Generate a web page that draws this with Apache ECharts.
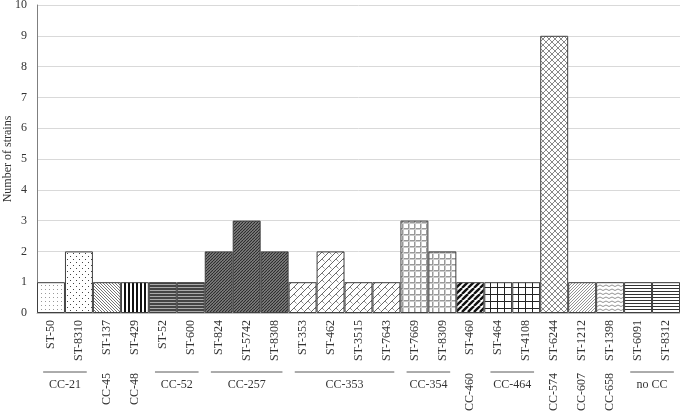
<!DOCTYPE html>
<html>
<head>
<meta charset="utf-8">
<script src="https://cdn.jsdelivr.net/npm/echarts@6/dist/echarts.min.js"></script>
<style>
  html, body { margin: 0; padding: 0; background: #fff; }
  #chart { width: 680px; height: 412px; }
</style>
</head>
<body>
<div id="chart"></div>
<script>
// sequence types (x categories) and strain counts
const categories = ['ST-50', 'ST-8310', 'ST-137', 'ST-429', 'ST-52', 'ST-600', 'ST-824', 'ST-5742', 'ST-8308',
  'ST-353', 'ST-462', 'ST-3515', 'ST-7643', 'ST-7669', 'ST-8309', 'ST-460', 'ST-464', 'ST-4108',
  'ST-6244', 'ST-1212', 'ST-1398', 'ST-6091', 'ST-8312'];
const counts = [1, 2, 1, 1, 1, 1, 2, 3, 2, 1, 2, 1, 1, 3, 2, 1, 1, 1, 9, 1, 1, 1, 1];

// clonal complexes: name, first ST, last ST
const groupNames = ['CC-21', 'CC-45', 'CC-48', 'CC-52', 'CC-257', 'CC-353', 'CC-354', 'CC-460', 'CC-464', 'CC-574', 'CC-607', 'CC-658', 'no CC'];
const groupFirst = ['ST-50', 'ST-137', 'ST-429', 'ST-52', 'ST-824', 'ST-353', 'ST-7669', 'ST-460', 'ST-464', 'ST-6244', 'ST-1212', 'ST-1398', 'ST-6091'];
const groupLast = ['ST-8310', 'ST-137', 'ST-429', 'ST-600', 'ST-8308', 'ST-7643', 'ST-8309', 'ST-460', 'ST-4108', 'ST-6244', 'ST-1212', 'ST-1398', 'ST-8312'];

const yTicks = [0, 10, 1];

const FONT = 'Liberation Serif';
const TEXT = '#333';

// --- fill patterns (one per clonal complex) ---
const tile = (w, h, draw) => {
  const c = document.createElement('canvas');
  c.width = w; c.height = h;
  const ctx = c.getContext('2d');
  ctx.fillStyle = '#fff';
  ctx.fillRect(0, 0, w, h);
  draw(ctx, w, h);
  return { image: c, repeat: 'repeat' };
};
const diag = (ctx, s, color, lw, up) => {
  ctx.strokeStyle = color; ctx.lineWidth = lw;
  for (let i = -1; i <= 1; i++) {
    ctx.beginPath();
    if (up) { ctx.moveTo(i * s, s); ctx.lineTo((i + 1) * s, 0); }
    else { ctx.moveTo(i * s, 0); ctx.lineTo((i + 1) * s, s); }
    ctx.stroke();
  }
};

const patterns = {
  dotsLight: tile(4, 4, (ctx) => { ctx.fillStyle = '#9a9a9a'; ctx.fillRect(1, 1, 1, 1); }),
  dotsDark: tile(6, 6, (ctx) => { ctx.fillStyle = '#444'; ctx.fillRect(1, 1, 1, 1); ctx.fillRect(4, 4, 1, 1); }),
  fineDown: tile(3, 3, (ctx, s) => diag(ctx, s, '#666', 0.9, false)),
  vertThick: tile(4, 1, (ctx) => { ctx.fillStyle = '#111'; ctx.fillRect(0, 0, 2, 1); }),
  horizDense: tile(1, 3, (ctx) => { ctx.fillStyle = '#444'; ctx.fillRect(0, 0, 1, 2); ctx.fillStyle = '#aaa'; ctx.fillRect(0, 2, 1, 1); }),
  darkDiag: tile(3, 3, (ctx, s) => { ctx.fillStyle = '#8a8a8a'; ctx.fillRect(0, 0, s, s); diag(ctx, s, '#2a2a2a', 1.1, true); }),
  wideUp: tile(7, 7, (ctx, s) => {
    diag(ctx, s, '#555', 0.9, true);
    ctx.strokeStyle = '#777'; ctx.lineWidth = 0.8;
    ctx.beginPath(); ctx.moveTo(0, 0); ctx.lineTo(2.5, 2.5); ctx.stroke();
  }),
  smallGrid: tile(6, 6, (ctx) => {
    ctx.fillStyle = '#999'; ctx.fillRect(0, 0, 6, 1); ctx.fillRect(0, 0, 1, 6);
    ctx.fillStyle = '#ccc'; ctx.fillRect(0, 1, 6, 1); ctx.fillRect(1, 0, 1, 6);
  }),
  thickDiag: tile(6, 6, (ctx, s) => diag(ctx, s, '#111', 2.4, true)),
  largeGrid: tile(7, 7, (ctx) => { ctx.fillStyle = '#222'; ctx.fillRect(0, 0, 7, 1); ctx.fillRect(0, 0, 1, 7); }),
  diamond: tile(6, 6, (ctx, s) => { diag(ctx, s, '#888', 1, true); diag(ctx, s, '#888', 1, false); }),
  denseUp: tile(3, 3, (ctx, s) => diag(ctx, s, '#777', 0.8, true)),
  wave: tile(6, 4, (ctx) => {
    ctx.strokeStyle = '#777'; ctx.lineWidth = 0.8;
    ctx.beginPath(); ctx.moveTo(0, 1); ctx.lineTo(3, 2.5); ctx.lineTo(6, 1); ctx.stroke();
  }),
  horizLines: tile(1, 3, (ctx) => { ctx.fillStyle = '#333'; ctx.fillRect(0, 0, 1, 1); })
};

const barPattern = ['dotsLight', 'dotsDark', 'fineDown', 'vertThick', 'horizDense', 'horizDense', 'darkDiag', 'darkDiag', 'darkDiag',
  'wideUp', 'wideUp', 'wideUp', 'wideUp', 'smallGrid', 'smallGrid', 'thickDiag', 'largeGrid', 'largeGrid',
  'diamond', 'denseUp', 'wave', 'horizLines', 'horizLines'];

const chart = echarts.init(document.getElementById('chart'));

chart.setOption({
  animation: false,
  backgroundColor: '#fff',
  grid: { left: 37, right: 0, top: 5, bottom: 99, outerBoundsMode: 'none', containLabel: false },
  xAxis: {
    type: 'category',
    data: categories,
    axisLine: { lineStyle: { color: '#bfbfbf' } },
    axisTick: { show: false },
    axisLabel: { rotate: 90, interval: 0, margin: 7, fontFamily: FONT, fontSize: 12, color: TEXT }
  },
  yAxis: {
    type: 'value',
    min: yTicks[0],
    max: yTicks[1],
    interval: yTicks[2],
    name: 'Number of strains',
    nameLocation: 'middle',
    nameGap: 23,
    nameMoveOverlap: false,
    nameTextStyle: { fontFamily: FONT, fontSize: 12, color: TEXT },
    axisLine: { show: true, lineStyle: { color: '#7f7f7f' } },
    axisTick: { show: false },
    axisLabel: { margin: 10, fontFamily: FONT, fontSize: 12, color: TEXT },
    splitLine: { lineStyle: { color: '#d9d9d9' } }
  },
  series: [{
    type: 'bar',
    barCategoryGap: 0,
    data: counts.map((v, i) => ({
      value: v,
      itemStyle: { color: patterns[barPattern[i]], borderColor: '#404040', borderWidth: 1 }
    }))
  }]
});

// clonal complex labels under the ST labels
const bw = chart.convertToPixel({ xAxisIndex: 0 }, categories[1]) - chart.convertToPixel({ xAxisIndex: 0 }, categories[0]);
const graphics = [];
groupNames.forEach((name, g) => {
  const x0 = chart.convertToPixel({ xAxisIndex: 0 }, groupFirst[g]);
  const x1 = chart.convertToPixel({ xAxisIndex: 0 }, groupLast[g]);
  if (groupFirst[g] === groupLast[g]) {
    graphics.push({
      type: 'text', x: x0, y: 373, rotation: Math.PI / 2,
      style: { text: name, font: '12px "' + FONT + '"', fill: TEXT, textAlign: 'right', textVerticalAlign: 'middle' }
    });
  } else {
    const inset = bw * 0.22;
    graphics.push({
      type: 'line',
      shape: { x1: x0 - bw / 2 + inset, y1: 372, x2: x1 + bw / 2 - inset, y2: 372 },
      style: { stroke: '#595959', lineWidth: 1 }
    });
    graphics.push({
      type: 'text', x: (x0 + x1) / 2, y: 385,
      style: { text: name, font: '12px "' + FONT + '"', fill: TEXT, textAlign: 'center', textVerticalAlign: 'middle' }
    });
  }
});
chart.setOption({ graphic: graphics });
</script>
</body>
</html>
